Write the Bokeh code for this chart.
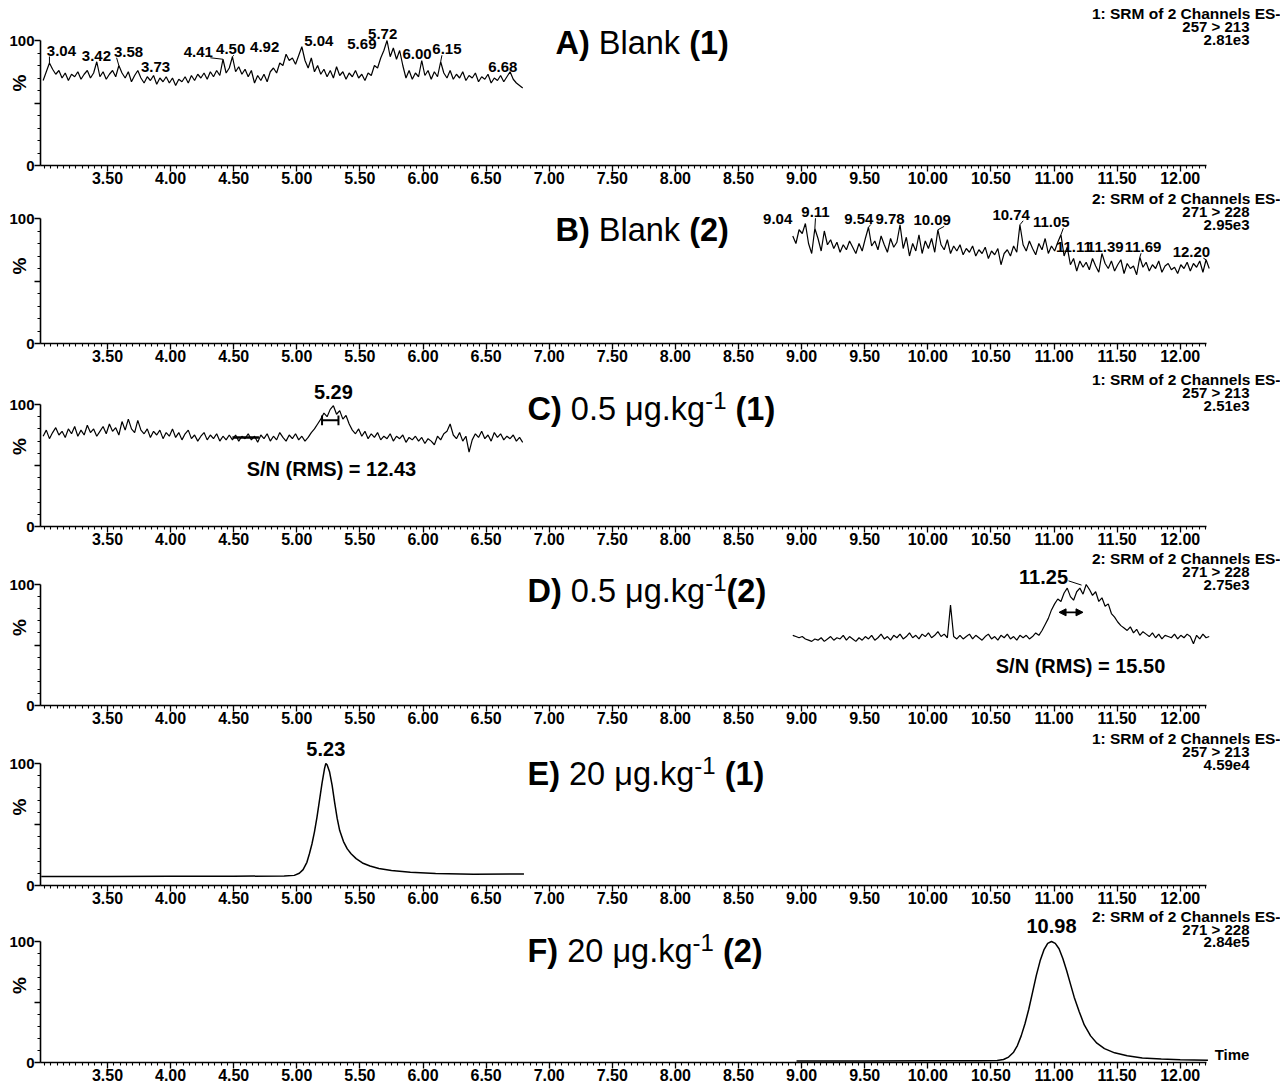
from bokeh.plotting import figure
from bokeh.layouts import column
from bokeh.models import Range1d, FixedTicker, Label, Arrow, NormalHead, NumeralTickFormatter
from bokeh.embed import file_html
from bokeh.resources import INLINE

# ---------------------------------------------------------------- data
time_ticks = [3.5, 4.0, 4.5, 5.0, 5.5, 6.0, 6.5, 7.0, 7.5, 8.0, 8.5, 9.0, 9.5,
              10.0, 10.5, 11.0, 11.5, 12.0]
minor_time_ticks = [round(3.0 + 0.05 * i, 2) for i in range(185)]

# A) Blank (1) -- channel 1, scans every 0.025 min from 2.99 min
a_t0, a_dt = 2.99, 0.025
a_pct = [68, 75, 82, 77, 73, 76, 70, 74, 68, 73,
         71, 75, 69, 73, 76, 70, 74, 83, 71, 75,
         69, 73, 76, 71, 80, 74, 70, 75, 67, 72,
         76, 70, 66, 71, 68, 72, 65, 70, 67, 71,
         66, 70, 64, 69, 67, 71, 66, 72, 68, 73,
         70, 74, 69, 75, 71, 76, 72, 85, 74, 78,
         87, 75, 79, 73, 77, 71, 76, 66, 72, 68,
         73, 67, 75, 78, 74, 82, 80, 89, 84, 86,
         81, 88, 95, 84, 78, 86, 75, 80, 73, 77,
         71, 76, 70, 79, 72, 75, 69, 74, 71, 76,
         70, 73, 68, 74, 72, 80, 78, 86, 92, 100,
         87, 94, 85, 92, 80, 70, 76, 69, 74, 71,
         84, 72, 76, 69, 75, 71, 83, 74, 70, 76,
         69, 73, 70, 75, 68, 72, 70, 74, 67, 71,
         69, 73, 66, 70, 68, 72, 67, 71, 75, 69,
         66, 64, 62]
a_peaks = [3.04, 3.42, 3.58, 3.73, 4.41, 4.50, 4.92, 5.04, 5.69, 5.72, 6.00, 6.15, 6.68]

# B) Blank (2) -- channel 2, from 8.93 min
b_t0, b_dt = 8.93, 0.025
b_pct = [86, 80, 91,
         88, 96, 80, 72, 92, 84, 74, 90, 79, 83,
         76, 81, 73, 79, 75, 82, 77, 72, 80, 74,
         84, 93, 78, 82, 75, 86, 79, 73, 84, 77,
         81, 95, 76, 85, 70, 80, 74, 87, 72, 82,
         76, 84, 73, 91, 79, 75, 83, 72, 78, 74,
         79, 71, 76, 73, 78, 70, 75, 72, 77, 68,
         74, 71, 76, 63, 72, 75, 70, 78, 73, 95,
         79, 74, 82, 76, 71, 80, 75, 84, 72, 78,
         74, 81, 87, 70, 77, 63, 68, 58, 66, 61,
         65, 59, 68, 62, 57, 72, 64, 60, 66, 58,
         63, 67, 56, 64, 60, 62, 55, 69, 61, 65,
         58, 63, 60, 66, 57, 62, 64, 59, 61, 56,
         63, 60, 65, 58, 64, 61, 66, 57, 67, 60]
b_peaks = [9.04, 9.11, 9.54, 9.78, 10.09, 10.74, 11.05, 11.11, 11.39, 11.69, 12.20]

# C) 0.5 ug/kg (1)
c_t0, c_dt = 2.99, 0.025
c_pct = [74, 79, 72, 77, 81, 75, 78, 73, 80, 76,
         82, 74, 79, 75, 83, 77, 80, 74, 78, 82,
         76, 84, 78, 81, 75, 86, 79, 88, 80, 77,
         87, 79, 76, 80, 73, 78, 75, 79, 72, 77,
         74, 80, 73, 77, 71, 76, 79, 72, 75, 70,
         74, 77, 71, 75, 72, 76, 70, 74, 71, 75,
         71, 75, 70, 74, 72, 76, 71, 74, 69, 75,
         72, 76, 70, 74, 71, 77, 73, 70, 75, 72,
         76, 71, 74, 70, 73, 77, 80, 84, 88, 93,
         90, 96, 99, 92, 95, 88, 91, 84, 79, 76,
         80, 74, 78, 72, 76, 73, 77, 71, 74, 72,
         76, 70, 74, 72, 75, 69, 73, 71, 74, 70,
         73, 68, 72, 70, 67, 74, 71, 76, 78, 84,
         75, 72, 77, 70, 74, 61, 71, 76, 73, 78,
         72, 75, 70, 77, 73, 76, 71, 74, 72, 75,
         70, 73, 69]
c_peak = 5.29
c_noise_seg = (4.49, 4.70, 73)
c_width_bar = (5.20, 5.33, 87)

# D) 0.5 ug/kg (2)
d_t0, d_dt = 8.93, 0.025
d_pct = [58, 57, 56,
         57, 55, 54, 53, 55, 54, 56, 53, 55, 57,
         54, 56, 55, 58, 54, 57, 55, 53, 56, 54,
         57, 55, 58, 54, 56, 59, 55, 57, 54, 58,
         56, 59, 55, 57, 60, 56, 58, 55, 59, 57,
         60, 56, 58, 61, 57, 59, 56, 83, 57, 55,
         58, 55, 57, 59, 55, 58, 56, 54, 57, 59,
         55, 57, 54, 58, 56, 59, 55, 57, 54, 58,
         56, 58, 55, 57, 60, 58, 62, 67, 72, 79,
         84, 88, 86, 93, 97, 90, 87, 94, 97, 92,
         100, 96, 91, 94, 86, 89, 82, 84, 76, 73,
         69, 66, 64, 62, 65, 60, 63, 58, 61, 59,
         57, 60, 56, 59, 55, 58, 57, 56, 59, 55,
         58, 56, 59, 57, 51, 58, 55, 59, 56, 57]
d_peak = 11.25
d_width_arrow = (11.04, 11.23, 77)

# E) 20 ug/kg (1)
e_time = [2.975, 3.5, 4.0, 4.5, 4.9, 4.98, 5.02, 5.05, 5.08, 5.10, 5.12, 5.14, 5.16, 5.18,
          5.20, 5.22, 5.23, 5.24, 5.26, 5.28, 5.30, 5.32, 5.34, 5.37, 5.40, 5.43, 5.47,
          5.52, 5.58, 5.65, 5.75, 5.90, 6.10, 6.40, 6.80]
e_pct = [7.3, 7.4, 7.5, 7.6, 7.8, 8.3, 10, 13, 19, 26, 34, 44, 56, 70, 84, 96, 100, 99, 93,
         82, 68, 55, 45, 36, 30, 26, 22, 18.5, 16, 14, 12.3, 10.8, 9.8, 9.2, 9.5]
e_peak = 5.23

# F) 20 ug/kg (2)
f_time = [8.96, 9.5, 10.0, 10.4, 10.55, 10.60, 10.64, 10.68, 10.71, 10.74, 10.77, 10.80,
          10.83, 10.86, 10.89, 10.92, 10.95, 10.98, 11.01, 11.04, 11.07, 11.10, 11.13,
          11.16, 11.20, 11.24, 11.29, 11.34, 11.40, 11.48, 11.58, 11.70, 11.85, 12.00, 12.22]
f_pct = [1.2, 1.3, 1.4, 1.5, 1.7, 2.5, 4.5, 8.5, 14, 22, 32, 44, 58, 72, 84, 93, 98.5, 100,
         98.5, 94, 86, 76, 65, 54, 42, 31, 22, 16, 11.5, 8, 5.5, 3.8, 2.8, 2.2, 1.8]
f_peak = 10.98

channel_head = ["1: SRM of 2 Channels ES-", "2: SRM of 2 Channels ES-"]
transitions = ["257 > 213", "271 > 228"]
intensities = ["2.81e3", "2.95e3", "2.51e3", "2.75e3", "4.59e4", "2.84e5"]
sn_values = ["12.43", "15.50"]

# ---------------------------------------------------------------- layout / style
FONT = "Liberation Sans"
W = 1280
LEFT = 40
PXM = 126.2                       # pixels per minute (as in the reference)
X0 = 3.5 - 67 / PXM               # time at the y axis
X1 = X0 + (W - LEFT) / PXM        # frame runs to the right edge of the page
AX_END = 12.21
BOTTOM = 23

# Arial / Liberation Sans advance widths (1/1000 em) for the title strings
REG_W = {" ": 278, ".": 278, "-": 333, "\u03bc": 576, "g": 556, "k": 500, "B": 667,
         "l": 222, "a": 556, "n": 556}
BOLD_W = {" ": 278, "(": 333, ")": 333, "A": 722, "B": 722, "C": 722, "D": 722,
          "E": 667, "F": 611}


def text_w(text, bold, size):
    table = BOLD_W if bold else REG_W
    return sum(table.get(ch, 556) for ch in text) * size / 1000.0


def t_at(page_px):
    return X0 + (page_px - LEFT) / PXM


def grid(t0, dt, vals):
    return [round(t0 + dt * i, 4) for i in range(len(vals))]


def make_fig(h, top100):
    frame_h = h - BOTTOM
    y_end = 100.0 * frame_h / (frame_h - top100)
    p = figure(width=W, height=h, x_range=Range1d(X0, X1), y_range=Range1d(0, y_end),
               output_backend="svg", toolbar_location=None, tools="",
               min_border_left=LEFT, min_border_right=0,
               min_border_top=0, min_border_bottom=BOTTOM)
    p.outline_line_color = None
    p.xgrid.visible = False
    p.ygrid.visible = False
    p.background_fill_color = "white"
    xa = p.xaxis[0]
    xa.bounds = (X0, AX_END)
    xa.ticker = FixedTicker(ticks=time_ticks, minor_ticks=minor_time_ticks)
    xa.formatter = NumeralTickFormatter(format="0.00")
    xa.axis_line_width = 1.6
    xa.major_tick_in = 0
    xa.major_tick_out = 6
    xa.minor_tick_in = 0
    xa.minor_tick_out = 3
    xa.major_tick_line_width = 1.3
    xa.minor_tick_line_width = 1.1
    xa.major_label_standoff = 0
    xa.major_label_text_font = FONT
    xa.major_label_text_font_size = "16px"
    xa.major_label_text_font_style = "bold"
    xa.major_label_text_color = "black"
    ya = p.yaxis[0]
    ya.bounds = (0, 100)
    ya.ticker = FixedTicker(ticks=[0, 50, 100], minor_ticks=[10, 20, 30, 40, 60, 70, 80, 90])
    ya.major_label_overrides = {50: ""}
    ya.axis_line_width = 1.6
    ya.major_tick_in = 0
    ya.major_tick_out = 6
    ya.minor_tick_in = 0
    ya.minor_tick_out = 3
    ya.major_tick_line_width = 1.3
    ya.minor_tick_line_width = 1.1
    ya.major_label_standoff = 0
    ya.major_label_text_font = FONT
    ya.major_label_text_font_size = "15px"
    ya.major_label_text_font_style = "bold"
    ya.major_label_text_color = "black"
    ya.axis_label = "%"
    ya.axis_label_standoff = -24
    ya.axis_label_text_font = FONT
    ya.axis_label_text_font_size = "19px"
    ya.axis_label_text_font_style = "bold"
    ya.axis_label_text_color = "black"
    return p


def lab(p, x, y, text, size, bold=True, align="center", dx=0, dy=0, baseline="middle"):
    p.add_layout(Label(x=x, y=y, text=text, x_offset=dx, y_offset=dy,
                       text_font=FONT, text_font_size=size,
                       text_font_style="bold" if bold else "normal",
                       text_align=align, text_baseline=baseline, text_color="black"))


def peak_labels(p, times, values, peaks, dxs, ys):
    k = p.y_range.end / (p.height - BOTTOM)  # pct per pixel
    for t, dx, y in zip(peaks, dxs, ys):
        lab(p, t, y, f"{t:.2f}", "15px", dx=dx)
        i = min(range(len(times)), key=lambda j: abs(times[j] - t))
        v = values[i]
        bottom = y - 6 * k
        if dx > 6:
            ex = t + (dx - 12) / PXM
        elif dx < -6:
            ex = t + (dx + 12) / PXM
        else:
            ex = t
        if bottom > v + 1:
            p.segment(x0=[times[i]], y0=[v], x1=[ex], y1=[bottom], line_color="black", line_width=1)


def header(p, ch, iid, dys):
    lab(p, t_at(1280), 100, channel_head[ch], "15.5px", align="right", dy=dys[0])
    lab(p, t_at(1249), 100, transitions[ch], "15px", align="right", dy=dys[1])
    lab(p, t_at(1249), 100, intensities[iid], "15px", align="right", dy=dys[2])


TS = 32.5
SUP = 24


def title(p, start_px, dy, pieces):
    x = start_px
    for text, bold, sup in pieces:
        size = SUP if sup else TS
        core = text.strip(" ")
        lead = len(text) - len(text.lstrip(" "))
        trail = len(text) - len(text.rstrip(" "))
        x += text_w(" " * lead, bold, size)
        lab(p, t_at(x), 100, core, f"{size}px", bold=bold, align="left",
            dy=dy + (8 if sup else 0))
        x += text_w(core, bold, size) + text_w(" " * trail, bold, size)


figs = []

# ---- A
pA = make_fig(188, 40)
a_time = grid(a_t0, a_dt, a_pct)
pA.line(a_time, a_pct, line_color="black", line_width=1.2)
a_dx = [12, -1, 11, 19, -24, -3, -22, 17, -22, -5, -6, 5, -6]
a_ly = [92, 88, 91, 79, 91, 93, 94.5, 100, 97.5, 105.5, 89.5, 93, 78.5]
peak_labels(pA, a_time, a_pct, a_peaks, a_dx, a_ly)
title(pA, 555, -2, [("A)", True, False), (" Blank ", False, False), ("(1)", True, False)])
header(pA, 0, 0, (27, 14, 1))
figs.append(pA)

# ---- B
pB = make_fig(178, 30)
b_time = grid(b_t0, b_dt, b_pct)
pB.line(b_time, b_pct, line_color="black", line_width=1.2)
b_dx = [-29, 0, -11, -10, -7, -10, -9, 6, 2, 2, -14]
b_ly = [100, 105, 100, 100, 98.5, 103, 97, 77, 77, 77, 73]
peak_labels(pB, b_time, b_pct, b_peaks, b_dx, b_ly)
title(pB, 555, -11, [("B)", True, False), (" Blank ", False, False), ("(2)", True, False)])
header(pB, 1, 1, (20, 7, -6))
figs.append(pB)

# ---- C
pC = make_fig(183, 38)
pC.line(grid(c_t0, c_dt, c_pct), c_pct, line_color="black", line_width=1.2)
pC.segment(x0=[c_noise_seg[0]], y0=[c_noise_seg[2]], x1=[c_noise_seg[1]], y1=[c_noise_seg[2]],
           line_color="black", line_width=2.5)
wb0, wb1, wby = c_width_bar
pC.segment(x0=[wb0, wb0, wb1], y0=[wby, wby - 4, wby - 4], x1=[wb1, wb0, wb1], y1=[wby, wby + 4, wby + 4],
           line_color="black", line_width=2)
lab(pC, c_peak, 110.5, f"{c_peak:.2f}", "20px")
lab(pC, c_peak, 47, "S/N (RMS) = " + sn_values[0], "20px", dx=-2)
title(pC, 527, -4, [("C)", True, False), (" 0.5 \u03bcg.kg", False, False),
                    ("-1", False, True), (" (1)", True, False)])
header(pC, 0, 2, (25, 12, -1))
figs.append(pC)

# ---- D
pD = make_fig(179, 35)
pD.line(grid(d_t0, d_dt, d_pct), d_pct, line_color="black", line_width=1.2)
a0, a1, ay = d_width_arrow
pD.add_layout(Arrow(start=NormalHead(size=7, fill_color="black", line_color="black"),
                    end=NormalHead(size=7, fill_color="black", line_color="black"),
                    x_start=a0, y_start=ay, x_end=a1, y_end=ay, line_width=1.6, line_color="black"))
lab(pD, d_peak, 106, f"{d_peak:.2f}", "20px", dx=-42)
pD.segment(x0=[d_peak - 17 / PXM], y0=[103], x1=[d_peak - 4 / PXM], y1=[99.5],
           line_color="black", line_width=1)
lab(pD, 11.21, 33, "S/N (RMS) = " + sn_values[1], "20px")
title(pD, 527, -6, [("D)", True, False), (" 0.5 \u03bcg.kg", False, False),
                    ("-1", False, True), ("(2)", True, False)])
header(pD, 1, 3, (26, 13, 0))
figs.append(pD)

# ---- E
pE = make_fig(180, 35)
pE.line(e_time, e_pct, line_color="black", line_width=1.5)
lab(pE, e_peak, 111.5, f"{e_peak:.2f}", "20px")
title(pE, 527, -10, [("E)", True, False), (" 20 \u03bcg.kg", False, False),
                     ("-1", False, True), (" (1)", True, False)])
header(pE, 0, 4, (25, 12, -1))
figs.append(pE)

# ---- F
pF = make_fig(177, 33)
pF.line(f_time, f_pct, line_color="black", line_width=1.5)
lab(pF, f_peak, 113, f"{f_peak:.2f}", "20px")
title(pF, 527, -9, [("F)", True, False), (" 20 \u03bcg.kg", False, False),
                    ("-1", False, True), (" (2)", True, False)])
header(pF, 1, 5, (25, 12, 0))
lab(pF, AX_END, 0, "Time", "15px", align="left", dx=8, dy=8)
figs.append(pF)

layout = column(*figs, spacing=0)
open("out.html", "w").write(file_html(layout, INLINE))
